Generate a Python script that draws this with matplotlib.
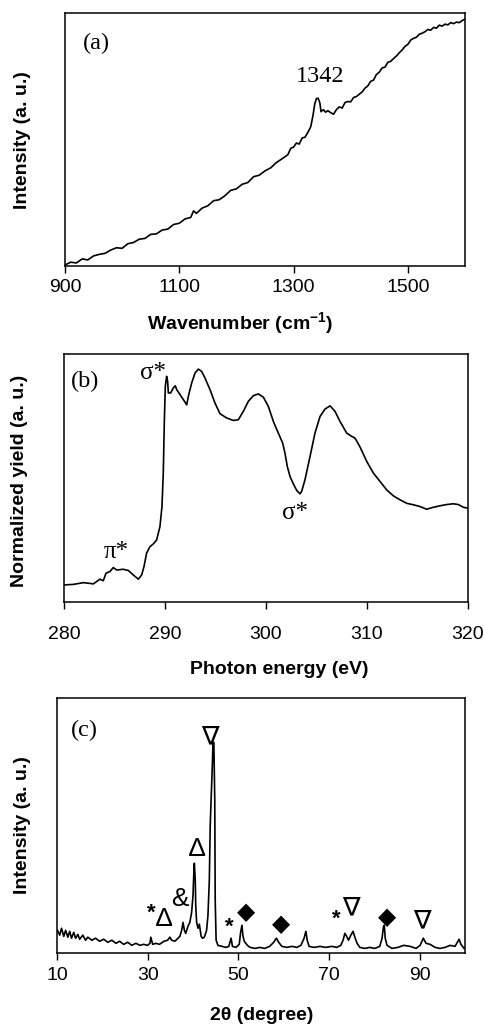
import matplotlib
matplotlib.use('Agg')
import matplotlib.pyplot as plt

plt.rcParams['font.family'] = ['Liberation Sans', 'DejaVu Sans']
plt.rcParams['mathtext.fontset'] = 'custom'
plt.rcParams['mathtext.rm'] = 'Liberation Sans:bold'
plt.rcParams['mathtext.bf'] = 'Liberation Sans:bold'
plt.rcParams['mathtext.it'] = 'Liberation Sans:bold'

# (a) Raman spectrum
raman_wn = [900, 910, 920, 930, 940, 950, 960, 970, 980, 990, 1000, 1010, 1020, 1030,
            1040, 1050, 1060, 1070, 1080, 1090, 1100, 1110, 1120, 1125, 1130, 1140, 1150,
            1160, 1170, 1180, 1190, 1200, 1210, 1220, 1230, 1240, 1250, 1260, 1270, 1280,
            1290, 1295, 1300, 1305, 1310, 1315, 1320, 1325, 1330, 1334, 1337, 1340, 1343,
            1346, 1348, 1352, 1356, 1360, 1365, 1370, 1375, 1380, 1385, 1390, 1395, 1400,
            1405, 1410, 1415, 1420, 1425, 1430, 1435, 1440, 1445, 1450, 1455, 1460, 1465,
            1470, 1475, 1480, 1485, 1490, 1495, 1500, 1505, 1510, 1515, 1520, 1525, 1530,
            1535, 1540, 1545, 1550, 1555, 1560, 1565, 1570, 1575, 1580, 1585, 1590, 1595, 1600]
raman_int = [0.4, 1.5, 1.2, 2.8, 2.4, 4.0, 4.6, 5.0, 6.3, 7.2, 7.0, 8.8, 9.3, 10.6,
             10.9, 12.5, 12.7, 14.2, 14.6, 16.4, 16.9, 18.6, 19.2, 21.8, 20.8, 22.9, 23.8,
             25.8, 26.2, 27.8, 29.9, 30.5, 32.3, 33.0, 35.3, 35.9, 37.6, 38.8, 40.9, 42.4,
             44.0, 46.5, 47.0, 48.6, 48.2, 50.6, 50.9, 52.8, 55.0, 59.5, 64.0, 66.2, 66.3,
             64.5, 61.0, 61.8, 60.8, 61.4, 60.6, 60.0, 61.8, 62.9, 62.4, 64.6, 65.0, 64.9,
             66.6, 67.0, 67.9, 68.8, 70.3, 71.2, 73.0, 73.5, 75.7, 76.6, 78.3, 78.6, 80.5,
             80.9, 82.0, 83.0, 84.3, 85.4, 86.8, 87.6, 89.3, 90.0, 90.4, 91.6, 92.0, 92.6,
             93.5, 93.2, 94.3, 94.0, 95.2, 94.8, 95.6, 95.3, 96.2, 95.8, 96.4, 96.2, 97.0, 97.6]

# (b) NEXAFS C K-edge
nexafs_e = [280.10, 280.92, 281.91, 282.57, 282.90, 283.56, 283.89, 284.16, 284.55, 284.88,
            285.21, 285.87, 286.37, 286.86, 287.36, 287.69, 287.92, 288.18, 288.51, 288.84,
            289.17, 289.50, 289.70, 289.83, 289.93, 290.03, 290.16, 290.26, 290.33, 290.56,
            290.82, 291.02, 291.16, 291.49, 291.82, 292.15, 292.31, 292.64, 292.97, 293.30,
            293.63, 293.96, 294.46, 294.95, 295.45, 296.11, 296.77, 297.26, 297.76, 298.25,
            298.75, 299.24, 299.74, 300.23, 300.73, 301.22, 301.65, 301.88, 302.11, 302.38,
            302.71, 303.04, 303.37, 303.53, 303.86, 304.36, 304.85, 305.35, 305.84, 306.34,
            306.83, 307.33, 307.99, 308.48, 308.81, 309.31, 309.97, 310.63, 311.29, 311.95,
            312.61, 313.27, 313.93, 314.59, 315.25, 315.91, 316.57, 317.23, 317.89, 318.55,
            319.04, 319.54, 320.00]
nexafs_y = [6.9, 7.1, 7.8, 7.5, 7.3, 9.2, 8.6, 11.6, 12.3, 13.9,
            12.9, 13.2, 12.7, 10.9, 9.2, 10.9, 14.3, 19.7, 22.3, 23.4,
            25.0, 30.4, 38.5, 52.0, 72.1, 86.9, 91.0, 89.0, 84.3, 84.3,
            86.3, 87.2, 85.6, 83.6, 81.6, 79.5, 82.9, 88.3, 92.3, 93.9,
            93.0, 90.3, 85.6, 80.2, 75.9, 74.2, 73.2, 73.5, 76.9, 80.9,
            83.2, 83.9, 82.6, 78.9, 72.8, 68.1, 64.1, 60.0, 54.6, 50.6,
            47.6, 45.0, 43.6, 44.6, 49.3, 58.7, 68.1, 74.8, 77.8, 79.1,
            76.9, 72.8, 68.1, 66.8, 66.1, 62.5, 56.7, 52.0, 48.6, 45.2,
            42.8, 41.2, 39.8, 39.2, 38.5, 37.4, 38.2, 38.8, 39.3, 39.6,
            39.3, 38.2, 37.8]

# (c) XRD pattern
xrd_2theta = [10.1, 10.6, 11.0, 11.5, 11.9, 12.4, 12.8, 13.2, 13.7, 14.1, 14.6, 15.0, 15.7,
              16.3, 16.8, 17.7, 18.5, 19.4, 20.3, 21.2, 22.1, 23.0, 23.8, 24.7, 25.6, 26.5,
              27.4, 28.3, 29.1, 30.0, 30.5, 30.7, 31.1, 31.8, 32.6, 33.6, 34.4, 34.9, 35.3,
              36.0, 36.7, 37.1, 37.5, 37.8, 38.1, 38.4, 38.9, 39.3, 39.7, 40.0, 40.2, 40.3,
              40.5, 40.6, 40.8, 41.1, 41.4, 41.6, 41.8, 42.1, 42.5, 43.0, 43.3, 43.6, 43.8,
              44.0, 44.3, 44.4, 44.6, 44.8, 44.9, 45.1, 45.5, 46.4, 47.3, 47.9, 48.4, 48.7,
              49.5, 50.2, 50.5, 50.8, 51.0, 51.3, 52.0, 52.6, 53.7, 54.7, 55.8, 56.9, 57.8,
              58.4, 58.9, 59.6, 60.7, 61.8, 62.9, 63.8, 64.5, 64.9, 65.2, 65.6, 66.7, 68.0,
              69.3, 70.6, 71.7, 72.6, 73.1, 73.5, 73.9, 74.3, 74.8, 75.3, 75.7, 76.2, 76.8,
              77.9, 79.0, 80.1, 81.2, 81.7, 82.0, 82.2, 82.4, 82.8, 83.9, 85.2, 86.5, 87.9,
              89.2, 90.1, 90.8, 91.4, 92.3, 93.4, 94.5, 95.6, 96.7, 97.8, 98.3, 98.7, 99.1, 99.8]
xrd_int = [8.9, 7.0, 9.7, 6.5, 8.9, 6.2, 8.5, 5.8, 8.1, 5.8, 7.3, 5.4, 7.0,
           5.0, 6.2, 5.0, 5.8, 4.6, 5.4, 4.2, 5.0, 3.8, 4.6, 3.4, 4.2, 3.0,
           3.8, 3.0, 3.4, 3.0, 3.8, 6.2, 3.4, 3.8, 3.4, 4.6, 5.0, 6.2, 5.0,
           4.6, 5.8, 6.5, 8.9, 12.0, 8.9, 7.7, 10.5, 12.0, 16.0, 22.6, 32.4, 35.2,
           28.5, 18.7, 12.0, 9.7, 11.3, 8.9, 6.5, 5.8, 6.2, 8.9, 14.8, 28.5, 50.1,
           59.9, 75.6, 82.6, 82.6, 59.9, 20.7, 5.0, 3.0, 2.6, 2.2, 2.6, 5.8, 2.6,
           2.2, 3.4, 8.1, 10.9, 6.9, 4.6, 3.0, 2.2, 1.8, 2.2, 1.8, 2.6, 4.2,
           5.8, 4.2, 2.6, 2.2, 2.6, 2.2, 3.0, 5.8, 8.5, 5.0, 2.6, 2.2, 2.6,
           2.2, 2.6, 2.2, 3.0, 5.0, 7.7, 6.5, 5.0, 6.9, 8.5, 6.2, 3.8, 2.2,
           1.8, 2.2, 1.8, 2.6, 5.8, 10.1, 10.9, 5.8, 3.0, 1.8, 2.2, 3.0, 2.6,
           1.8, 3.0, 5.8, 3.8, 3.4, 2.2, 1.8, 2.2, 3.0, 2.6, 4.2, 5.4, 3.4, 1.8]

# XRD phase marks: (symbol, 2theta, height)
xrd_marks = [('*', 30.8, 15.5), ('\u2206', 33.6, 13.5), ('&', 37.1, 21.0),
             ('\u2206', 40.9, 40.9), ('\u2207', 43.7, 84.7), ('*', 48.0, 10.2),
             ('\u25c6', 51.6, 15.7), ('\u25c6', 59.5, 11.1), ('*', 71.5, 13.1),
             ('\u2207', 74.8, 17.4), ('\u25c6', 82.9, 13.9), ('\u2207', 90.6, 12.4)]

W, H = 484, 1029
fig = plt.figure(figsize=(W / 100, H / 100), dpi=100)
serif = ['Liberation Serif', 'DejaVu Serif']
sans = ['Liberation Sans', 'DejaVu Sans']
mark_style = {'*': (16, 'bold'), '&': (19, 'normal'), '\u2206': (19, 'normal'),
              '\u2207': (19, 'normal'), '\u25c6': (17, 'normal')}


def make_axes(l, t, r, b):
    ax = fig.add_axes([l / W, 1 - b / H, (r - l) / W, (b - t) / H])
    for s in ax.spines.values():
        s.set_linewidth(1.1)
    ax.set_yticks([])
    ax.set_ylim(0, 100)
    ax.tick_params(axis='x', direction='out', length=5, width=1.0, labelsize=14)
    return ax


# panel (a)
ax = make_axes(65, 13, 465, 266)
ax.plot(raman_wn, raman_int, color='black', lw=1.2)
ax.set_xlim(900, 1600)
ax.set_xticks([900, 1100, 1300, 1500])
ax.tick_params(axis='x', pad=4)
ax.text(955, 88, '(a)', family=serif, fontsize=17.5, ha='center', va='center')
ax.text(1347, 75, '1342', family=serif, fontsize=17.5, ha='center', va='center')
fig.text(240 / W, 1 - 323 / H, 'Wavenumber (cm$^{-1}$)', fontsize=14, fontweight='bold',
         ha='center', va='center')
fig.text(23 / W, 1 - 140 / H, 'Intensity (a. u.)', fontsize=14, fontweight='bold',
         ha='center', va='center', rotation=90)

# panel (b)
ax = make_axes(64, 354, 468, 602)
ax.plot(nexafs_e, nexafs_y, color='black', lw=1.2)
ax.set_xlim(280, 320)
ax.set_xticks([280, 290, 300, 310, 320])
ax.tick_params(axis='x', pad=12)
ax.text(282.1, 88.8, '(b)', family=serif, fontsize=17.5, ha='center', va='center')
ax.text(288.8, 92.2, '\u03c3*', family=serif, fontsize=18, ha='center', va='center')
ax.text(302.9, 35.8, '\u03c3*', family=serif, fontsize=18, ha='center', va='center')
ax.text(285.2, 20.3, '\u03c0*', family=serif, fontsize=18, ha='center', va='center')
fig.text(279 / W, 1 - 670 / H, 'Photon energy (eV)', fontsize=14, fontweight='bold',
         ha='center', va='center')
fig.text(20 / W, 1 - 481 / H, 'Normalized yield (a. u.)', fontsize=14, fontweight='bold',
         ha='center', va='center', rotation=90)

# panel (c)
ax = make_axes(57, 698, 465, 953)
ax.plot(xrd_2theta, xrd_int, color='black', lw=1.2)
ax.set_xlim(10, 100)
ax.set_xticks([10, 30, 50, 70, 90])
ax.tick_params(axis='x', pad=5)
ax.text(16.1, 87.3, '(c)', family=serif, fontsize=17.5, ha='center', va='center')
for sym, xm, ym in xrd_marks:
    size, weight = mark_style[sym]
    ax.text(xm, ym, sym, family=sans, fontsize=size, fontweight=weight,
            ha='center', va='center')
fig.text(262 / W, 1 - 1015 / H, '2\u03b8 (degree)', fontsize=14, fontweight='bold',
         ha='center', va='center')
fig.text(23 / W, 1 - 825 / H, 'Intensity (a. u.)', fontsize=14, fontweight='bold',
         ha='center', va='center', rotation=90)

fig.savefig('out.png', dpi=100)
